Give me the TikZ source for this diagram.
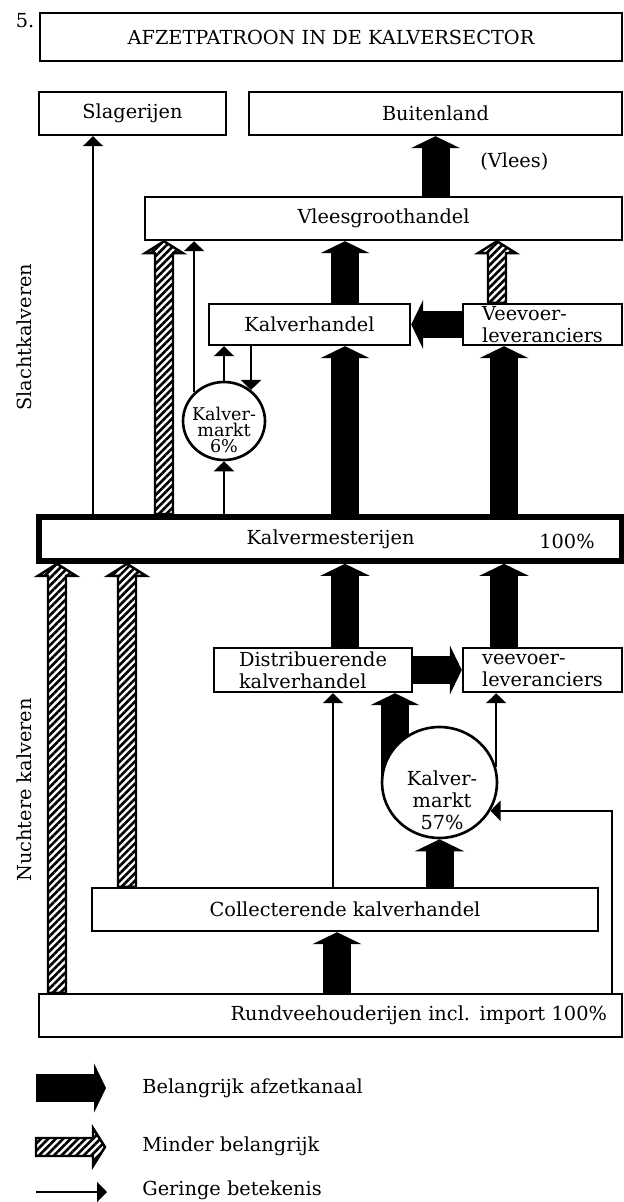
\documentclass[tikz,border=0pt]{standalone}
\usepackage{fontspec}
\setmainfont{DejaVu Serif}
\usetikzlibrary{arrows.meta,shapes.geometric,calc,backgrounds,patterns.meta}
\newcommand{\boxfont}{\fontsize{11}{12.5}\selectfont}
\tikzset{
  hatched/.style={draw,line width=1.4pt,
    pattern={Lines[angle=45,distance=3pt,line width=1.5pt]}}
}
\newcommand{\hatcharrow}[2]{%
  \coordinate (ha) at #1;
  \coordinate (hb) at #2;
  \coordinate (hc) at ($(hb)!0.24cm!(ha)$);
  \draw[hatched] ($(ha)!0.18cm!90:(hb)$) -- ($(hc)!0.18cm!90:(hb)$)
    -- ($(hc)!0.38cm!90:(hb)$) -- (hb) -- ($(hc)!0.38cm!-90:(hb)$)
    -- ($(hc)!0.18cm!-90:(hb)$) -- ($(ha)!0.18cm!-90:(hb)$) -- cycle;}

\begin{document}
\begin{tikzpicture}[
  x=0.02cm, y=-0.02cm,
  stage/.style={
    draw,
    line width=1.4pt,
    fill=white,
    inner xsep=2pt,
    inner ysep=0pt,
    align=center,
    font=\boxfont
  },
  market/.style={draw,ellipse,line width=1.5pt,fill=white,inner sep=0pt},
  note/.style={inner sep=0pt,font=\boxfont},
  bigarrow/.style={line width=0.56cm,-{Triangle[width=0.98cm,length=0.24cm]}},
  thinarrow/.style={line width=1.3pt,-{Triangle[width=0.4cm,length=0.2cm]}}
]
  \useasboundingbox (0,0) rectangle (624,1202);

  \node[note] (nr) at (25,21) {5.};
  \node[stage,minimum width=11.64cm,minimum height=0.96cm] (title) at (331,37)
    {AFZETPATROON IN DE KALVERSECTOR};

  \node[stage,minimum width=3.74cm,minimum height=0.86cm] (slag) at (132.5,113.5)
    {Slagerijen};
  \node[stage,minimum width=7.46cm,minimum height=0.86cm] (buit) at (435.5,113.5)
    {Buitenland};
  \node[note,anchor=west] (vlees) at (480,162) {(Vlees)};
  \node[stage,minimum width=9.54cm,minimum height=0.86cm] (vgh) at (383.5,218.5)
    {Vleesgroothandel};
  \node[stage,minimum width=4.02cm,minimum height=0.82cm] (kh) at (309.5,324.5)
    {Kalverhandel};
  \node[stage,align=left,minimum width=3.18cm,minimum height=0.82cm] (vv1) at (542.5,324.5)
    {Veevoer-\\leveranciers};
  \node[market,minimum width=1.64cm,minimum height=1.56cm] (km6) at (224,421) {};
  \node[note,align=center,font=\fontsize{10}{9}\selectfont] (km6txt) at (224,430)
    {Kalver-\\markt\\6\%};

  \node[stage,line width=3.2pt,minimum width=11.66cm,minimum height=0.88cm] (mest) at (330.5,539)
    {Kalvermesterijen};
  \node[note] (mestpct) at (567,541) {100\%};

  \node[stage,align=left,minimum width=3.96cm,minimum height=0.88cm] (dist) at (313,670)
    {Distribuerende\\kalverhandel};
  \node[stage,align=left,minimum width=3.18cm,minimum height=0.88cm] (vv2) at (542.5,670)
    {veevoer-\\leveranciers};
  \node[market,minimum width=2.30cm,minimum height=2.22cm] (km57) at (439.5,782.5) {};
  \node[note,align=center] (km57txt) at (442,800) {Kalver-\\markt\\57\%};
  \node[stage,minimum width=10.12cm,minimum height=0.86cm] (coll) at (345,909.5)
    {Collecterende kalverhandel};
  \node[stage,text width=11.06cm,align=right,minimum width=11.66cm,minimum height=0.86cm] (rund) at (330.5,1015.5)
    {Rundveehouderijen incl. import 100\%};

  \node[note,rotate=90] (slacht) at (24,337) {Slachtkalveren};
  \node[note,rotate=90] (nucht) at (24,790) {Nuchtere kalveren};

  \node[note,anchor=west] (leg1) at (142,1088) {Belangrijk afzetkanaal};
  \node[note,anchor=west] (leg2) at (142,1146) {Minder belangrijk};
  \node[note,anchor=west] (leg3) at (142,1190) {Geringe betekenis};
  \coordinate (leg1a) at (36,1088);
  \coordinate (leg1b) at (106,1088);
  \coordinate (leg2a) at (36,1147);
  \coordinate (leg2b) at (105,1147);
  \coordinate (leg3a) at (36,1192);
  \coordinate (leg3b) at (107,1192);

  \begin{scope}[on background layer]
    \fill[white] (0,0) rectangle (624,1202);
    \draw[thinarrow] (mest.north -| 93,0) -- (slag.south -| 93,0);
    \draw[bigarrow] (vgh.north -| buit.south) -- (buit.south);
    \hatcharrow{(mest.north -| 164,0)}{(vgh.south -| 164,0)}
    \draw[thinarrow] (km6.north west) -- (km6.north west |- vgh.south);
    \draw[thinarrow] (km6.north) -- (kh.south -| km6.north);
    \draw[thinarrow] (kh.south -| km6.49) -- (km6.49);
    \draw[thinarrow] (mest.north -| km6.south) -- (km6.south);
    \draw[bigarrow] (mest.north -| 345,0) -- (kh.south -| 345,0);
    \draw[bigarrow] (kh.north -| 345,0) -- (vgh.south -| 345,0);
    \draw[bigarrow] (vv1.west) -- (kh.east);
    \draw[bigarrow] (mest.north -| 504,0) -- (vv1.south -| 504,0);
    \hatcharrow{(vv1.north -| 497,0)}{(vgh.south -| 497,0)}

    \hatcharrow{(rund.north -| 57,0)}{(mest.south -| 57,0)}
    \hatcharrow{(coll.north -| 127,0)}{(mest.south -| 127,0)}
    \draw[bigarrow] (dist.north -| 345,0) -- (mest.south -| 345,0);
    \draw[bigarrow] (vv2.north -| 504,0) -- (mest.south -| 504,0);
    \draw[bigarrow] (dist.east) -- (vv2.west);
    \draw[thinarrow] (coll.north -| 333,0) -- (dist.south -| 333,0);
    \draw[bigarrow] (km57.center -| 395,0) -- (dist.south -| 395,0);
    \draw[thinarrow] (km57.15) -- (km57.15 |- vv2.south);
    \draw[thinarrow] (rund.north -| 612,0) |- (km57.331);
    \draw[bigarrow] (coll.north -| km57.south) -- (km57.south);
    \draw[bigarrow] (rund.north -| 337,0) -- (coll.south -| 337,0);

    \draw[bigarrow] (leg1a) -- (leg1b);
    \hatcharrow{(leg2a)}{(leg2b)}
    \draw[thinarrow] (leg3a) -- (leg3b);
  \end{scope}
\end{tikzpicture}
\end{document}
